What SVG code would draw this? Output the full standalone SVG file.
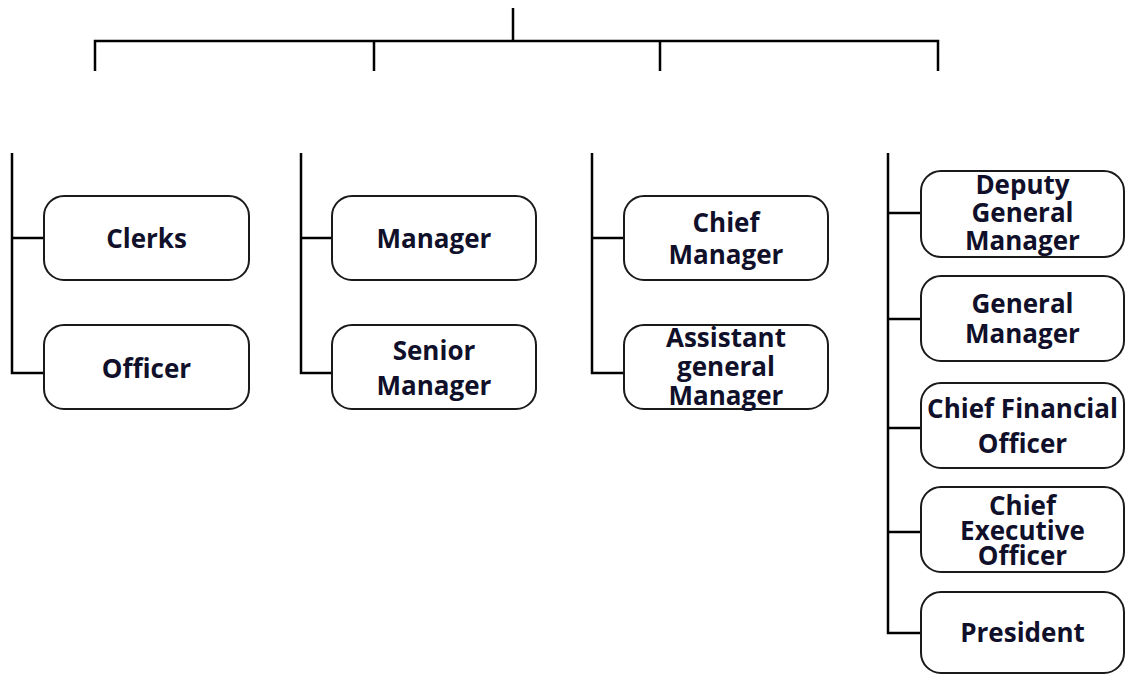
<svg xmlns="http://www.w3.org/2000/svg" width="1125" height="674" viewBox="0 0 1125 674">
<style>
.ln{stroke:#000;stroke-width:2.5;fill:none}
.box{fill:#fff;stroke:#1a1a1a;stroke-width:2}
.t{font-family:"Open Sans","DejaVu Sans",sans-serif;font-weight:700;font-size:26px;fill:#10102a;text-anchor:middle}
</style>
<rect width="1125" height="674" fill="#fff"/>
<g id="connectors">
<path class="ln" d="M513 8V41M95 71V41H938V71M374 41V71M660 41V71"/>
<path class="ln" d="M12 153V373H44M12 238H44"/>
<path class="ln" d="M301 153V373H332M301 238H332"/>
<path class="ln" d="M592 153V373H624M592 238H624"/>
<path class="ln" d="M888 153V633H921M888 213H921M888 319H921M888 428H921M888 532H921"/>
</g>
<g id="clerks"><rect class="box" x="44" y="196" width="205" height="84" rx="20"/><text class="t" x="146.5" y="248">Clerks</text></g>
<g id="officer"><rect class="box" x="44" y="325" width="205" height="84" rx="20"/><text class="t" x="146.5" y="378">Officer</text></g>
<g id="manager"><rect class="box" x="332" y="196" width="204" height="84" rx="20"/><text class="t" x="434" y="248">Manager</text></g>
<g id="senior-manager"><rect class="box" x="332" y="325" width="204" height="84" rx="20"/><text class="t" x="434" y="360">Senior</text><text class="t" x="434" y="395">Manager</text></g>
<g id="chief-manager"><rect class="box" x="624" y="196" width="204" height="84" rx="20"/><text class="t" x="726" y="232">Chief</text><text class="t" x="726" y="264">Manager</text></g>
<g id="assistant-general-manager"><rect class="box" x="624" y="325" width="204" height="84" rx="20"/><text class="t" x="726" y="347">Assistant</text><text class="t" x="726" y="376">general</text><text class="t" x="726" y="405">Manager</text></g>
<g id="deputy-general-manager"><rect class="box" x="921" y="171" width="203" height="86" rx="20"/><text class="t" x="1022.5" y="194">Deputy</text><text class="t" x="1022.5" y="222">General</text><text class="t" x="1022.5" y="250">Manager</text></g>
<g id="general-manager"><rect class="box" x="921" y="276" width="203" height="85" rx="20"/><text class="t" x="1022.5" y="313">General</text><text class="t" x="1022.5" y="343">Manager</text></g>
<g id="cfo"><rect class="box" x="921" y="383" width="203" height="85" rx="20"/><text class="t" x="1022.5" y="418">Chief Financial</text><text class="t" x="1022.5" y="453">Officer</text></g>
<g id="ceo"><rect class="box" x="921" y="487" width="203" height="85" rx="20"/><text class="t" x="1022.5" y="515">Chief</text><text class="t" x="1022.5" y="540">Executive</text><text class="t" x="1022.5" y="565">Officer</text></g>
<g id="president"><rect class="box" x="921" y="592" width="203" height="81" rx="20"/><text class="t" x="1022.5" y="642">President</text></g>
</svg>
